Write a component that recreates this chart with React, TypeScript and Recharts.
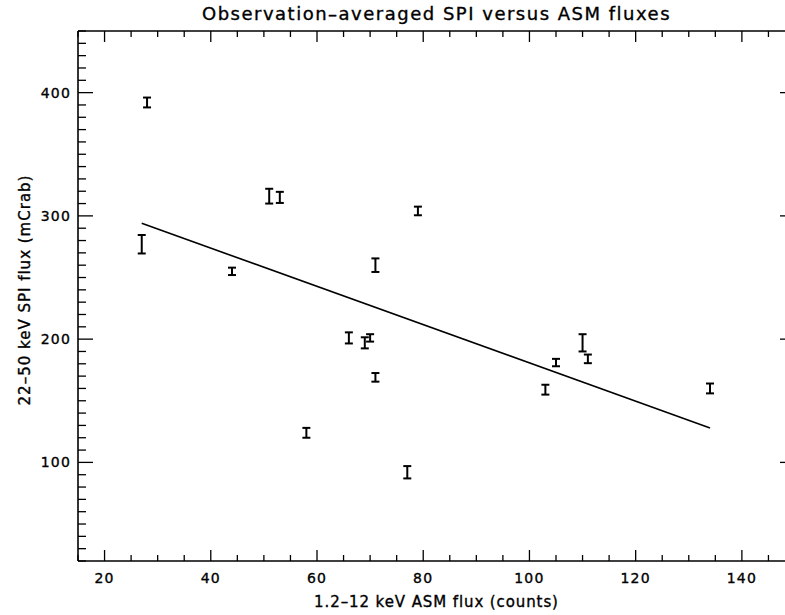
import { ScatterChart, Scatter, XAxis, YAxis, ErrorBar } from "recharts";

// observation-averaged fluxes, one entry per observation
const asmFlux = [28, 27, 51, 53, 44, 79, 71, 66, 69, 70, 71, 58, 77, 105, 110, 111, 103, 134];
const spiFlux = [392, 277, 316, 315, 255, 304, 260, 201, 197, 201, 169, 124, 92, 181, 197, 184, 159, 160];
const spiErr = [4, 7.5, 6, 4.5, 3, 3.5, 5.5, 4.5, 4.5, 3, 3.5, 4, 5, 3, 7, 3.5, 4, 4];

// linear fit, end points
const fitX = [27, 134];
const fitY = [294, 128];

const xMajor = [20, 40, 60, 80, 100, 120, 140];
const yMajor = [100, 200, 300, 400];
const xTicks = Array.from({ length: 28 }, (_, i) => 15 + i * 5);
const yTicks = Array.from({ length: 44 }, (_, i) => 20 + i * 10);

const points = asmFlux.map((x, i) => ({ x, y: spiFlux[i], err: spiErr[i] }));
const fitLine = fitX.map((x, i) => ({ x, y: fitY[i] }));

const FONT = "'DejaVu Sans', sans-serif";
const INK = "#000";
// hershey-ish text is a bit heavier than plain DejaVu
const textStyle = { fontFamily: FONT, fill: INK, stroke: INK, strokeWidth: 0.35 };

const BottomTick = ({ x, y, payload }: any) => {
  const major = xMajor.includes(payload.value);
  return (
    <g>
      <line x1={x} x2={x} y1={y} y2={y - (major ? 11 : 6)} stroke={INK} strokeWidth={1.3} />
      {major && (
        <text x={x} y={y + 22} textAnchor="middle" fontSize={14} letterSpacing={1.2} {...textStyle}>
          {payload.value}
        </text>
      )}
    </g>
  );
};

const TopTick = ({ x, y, payload }: any) => {
  const major = xMajor.includes(payload.value);
  return <line x1={x} x2={x} y1={y} y2={y + (major ? 11 : 6)} stroke={INK} strokeWidth={1.3} />;
};

const LeftTick = ({ x, y, payload }: any) => {
  const major = yMajor.includes(payload.value);
  return (
    <g>
      <line x1={x} x2={x + (major ? 15 : 8)} y1={y} y2={y} stroke={INK} strokeWidth={1.3} />
      {major && (
        <text x={x - 7} y={y} dy={5} textAnchor="end" fontSize={14} letterSpacing={1.2} {...textStyle}>
          {payload.value}
        </text>
      )}
    </g>
  );
};

const RightTick = ({ x, y, payload }: any) => {
  const major = yMajor.includes(payload.value);
  return <line x1={x} x2={x - (major ? 15 : 8)} y1={y} y2={y} stroke={INK} strokeWidth={1.3} />;
};

const NoDot = () => <g />;

export default function App() {
  return (
    <div style={{ position: "absolute", top: 0, left: 0, width: 785, height: 615, overflow: "hidden", background: "#fff" }}>
      <ScatterChart width={810} height={615} margin={{ top: 30, right: 14, bottom: 53, left: 77 }}>
        <XAxis
          xAxisId="bottom"
          dataKey="x"
          type="number"
          domain={[15, 150]}
          allowDataOverflow
          ticks={xTicks}
          interval={0}
          height={1}
          tickSize={0}
          tickMargin={0}
          tickLine={false}
          axisLine={{ stroke: INK, strokeWidth: 1.6 }}
          tick={BottomTick}
        />
        <XAxis
          xAxisId="top"
          orientation="top"
          dataKey="x"
          type="number"
          domain={[15, 150]}
          allowDataOverflow
          ticks={xTicks}
          interval={0}
          height={1}
          tickSize={0}
          tickMargin={0}
          tickLine={false}
          axisLine={{ stroke: INK, strokeWidth: 1.6 }}
          tick={TopTick}
        />
        <YAxis
          yAxisId="left"
          dataKey="y"
          type="number"
          domain={[20, 450]}
          allowDataOverflow
          ticks={yTicks}
          interval={0}
          width={1}
          tickSize={0}
          tickMargin={0}
          tickLine={false}
          axisLine={{ stroke: INK, strokeWidth: 1.6 }}
          tick={LeftTick}
        />
        <YAxis
          yAxisId="right"
          orientation="right"
          dataKey="y"
          type="number"
          domain={[20, 450]}
          allowDataOverflow
          ticks={yTicks}
          interval={0}
          width={1}
          tickSize={0}
          tickMargin={0}
          tickLine={false}
          axisLine={{ stroke: INK, strokeWidth: 1.6 }}
          tick={RightTick}
        />
        <Scatter
          data={fitLine}
          xAxisId="top"
          yAxisId="right"
          line={{ stroke: INK, strokeWidth: 1.6 }}
          shape={<NoDot />}
          isAnimationActive={false}
        />
        <Scatter data={points} xAxisId="bottom" yAxisId="left" shape={<NoDot />} isAnimationActive={false}>
          <ErrorBar dataKey="err" direction="y" width={4} strokeWidth={2} stroke={INK} isAnimationActive={false} />
        </Scatter>
        <text x={436.5} y={20} textAnchor="middle" fontSize={18} letterSpacing={1.5} {...textStyle}>
          Observation–averaged SPI versus ASM fluxes
        </text>
        <text x={436.5} y={607} textAnchor="middle" fontSize={15} letterSpacing={0.9} {...textStyle}>
          1.2–12 keV ASM flux (counts)
        </text>
        <text
          x={0}
          y={0}
          transform="translate(30, 290) rotate(-90)"
          textAnchor="middle"
          fontSize={15}
          letterSpacing={1}
          {...textStyle}
        >
          22–50 keV SPI flux (mCrab)
        </text>
      </ScatterChart>
    </div>
  );
}
